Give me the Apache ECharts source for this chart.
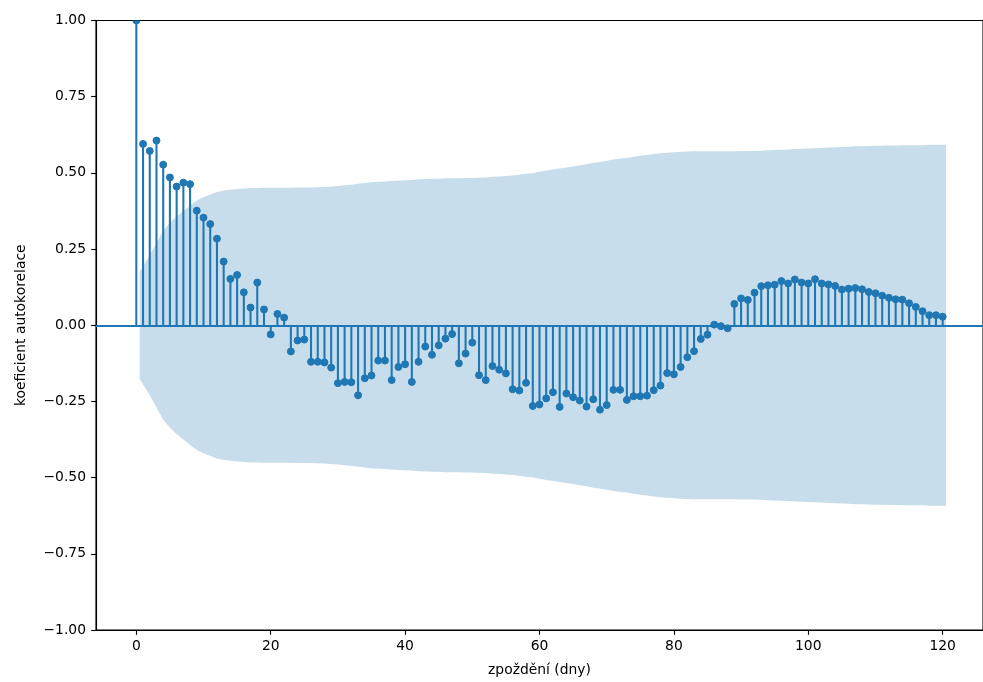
<!DOCTYPE html>
<html>
<head>
<meta charset="utf-8">
<script src="https://cdn.jsdelivr.net/npm/echarts@6/dist/echarts.min.js"></script>
<style>
html,body{margin:0;padding:0;background:#fff;}
#chart{width:983px;height:682px;}
</style>
</head>
<body>
<div id="chart"></div>
<script>
// ACF values for lags 0..120
const acfValues = [
  1.000, 0.595, 0.572, 0.606, 0.527, 0.485, 0.455, 0.468, 0.463, 0.376,
  0.353, 0.332, 0.284, 0.209, 0.152, 0.165, 0.108, 0.058, 0.140, 0.052,
  -0.030, 0.037, 0.025, -0.086, -0.050, -0.047, -0.120, -0.120, -0.122, -0.139,
  -0.190, -0.186, -0.187, -0.230, -0.174, -0.165, -0.116, -0.116, -0.180, -0.137,
  -0.128, -0.186, -0.120, -0.070, -0.097, -0.066, -0.044, -0.029, -0.125, -0.093,
  -0.057, -0.164, -0.180, -0.134, -0.146, -0.158, -0.210, -0.214, -0.189, -0.265,
  -0.260, -0.240, -0.220, -0.268, -0.224, -0.236, -0.247, -0.267, -0.243, -0.277,
  -0.262, -0.212, -0.212, -0.245, -0.233, -0.233, -0.231, -0.213, -0.198, -0.157,
  -0.161, -0.137, -0.105, -0.085, -0.045, -0.031, 0.002, -0.003, -0.010, 0.070,
  0.088, 0.083, 0.107, 0.128, 0.131, 0.133, 0.145, 0.137, 0.150, 0.140,
  0.137, 0.151, 0.137, 0.134, 0.129, 0.117, 0.120, 0.122, 0.118, 0.109,
  0.105, 0.097, 0.090, 0.085, 0.084, 0.072, 0.060, 0.046, 0.033, 0.033,
  0.028
];
// Confidence band half-width for lags 1..120
const bandHalfWidth = [
  0.176, 0.230, 0.270, 0.310, 0.336, 0.357, 0.375, 0.393, 0.409, 0.420,
  0.429, 0.437, 0.442, 0.445, 0.447, 0.449, 0.450, 0.450, 0.451, 0.451,
  0.451, 0.451, 0.451, 0.452, 0.452, 0.452, 0.453, 0.454, 0.455, 0.457,
  0.459, 0.461, 0.464, 0.467, 0.469, 0.471, 0.472, 0.473, 0.475, 0.476,
  0.477, 0.479, 0.480, 0.481, 0.481, 0.482, 0.482, 0.482, 0.483, 0.483,
  0.484, 0.485, 0.487, 0.488, 0.490, 0.491, 0.494, 0.497, 0.499, 0.504,
  0.508, 0.511, 0.514, 0.518, 0.521, 0.525, 0.528, 0.533, 0.536, 0.540,
  0.544, 0.547, 0.549, 0.553, 0.556, 0.559, 0.562, 0.564, 0.566, 0.568,
  0.569, 0.570, 0.571, 0.571, 0.571, 0.571, 0.571, 0.571, 0.571, 0.572,
  0.572, 0.572, 0.573, 0.574, 0.575, 0.576, 0.577, 0.578, 0.579, 0.580,
  0.581, 0.582, 0.583, 0.584, 0.585, 0.586, 0.587, 0.587, 0.588, 0.589,
  0.589, 0.590, 0.590, 0.591, 0.591, 0.591, 0.591, 0.592, 0.592, 0.592
];
const xTicks = [0, 20, 40, 60, 80, 100, 120];
const yTicks = [-1.0, -0.75, -0.5, -0.25, 0.0, 0.25, 0.5, 0.75, 1.0];
const xAxisTitle = 'zpoždění (dny)';
const yAxisTitle = 'koeficient autokorelace';

const C0 = '#1f77b4';
const BAND = '#c7ddec';
const FONT = 'DejaVu Sans';
const px = 100 / 72; // points to pixels at 100 dpi

const lags = acfValues.map((_, i) => i);
const stemData = acfValues.map((v, i) => [lags[i], v]);
// band lags: lags 1..120 with ends extended by half a lag (as statsmodels does)
const bandLags = lags.slice(1).map((l, i, arr) => i === 0 ? l - 0.5 : (i === arr.length - 1 ? l + 0.5 : l));
const upperBand = bandHalfWidth.map((h, i) => [bandLags[i], h]);
const lowerBand = bandHalfWidth.map((h, i) => [bandLags[i], -h]);

const fmt = v => (v < 0 ? '\u2212' : '') + Math.abs(v).toFixed(2);

const chart = echarts.init(document.getElementById('chart'), null, {renderer: 'canvas'});
chart.setOption({
  animation: false,
  backgroundColor: '#fff',
  grid: {
    left: 96, top: 20.5, right: -3.5, bottom: 52,
    show: true, borderColor: '#000', borderWidth: 0.8 * px, backgroundColor: 'transparent'
  },
  xAxis: {
    type: 'value', min: -6, max: 126,
    name: xAxisTitle, nameLocation: 'middle', nameGap: 33,
    nameTextStyle: {fontFamily: FONT, fontSize: 10 * px, color: '#000'},
    axisLine: {show: true, onZero: false, lineStyle: {color: '#000', width: 0.8 * px}},
    axisTick: {show: true, length: 3.5 * px, customValues: xTicks, lineStyle: {color: '#000', width: 0.8 * px}},
    axisLabel: {customValues: xTicks, margin: 9.5, fontFamily: FONT, fontSize: 10 * px, color: '#000', formatter: v => String(v)},
    splitLine: {show: false}
  },
  yAxis: {
    type: 'value', min: -1, max: 1,
    name: yAxisTitle, nameLocation: 'middle', nameGap: 68,
    nameTextStyle: {fontFamily: FONT, fontSize: 10 * px, color: '#000'},
    axisLine: {show: true, onZero: false, lineStyle: {color: '#000', width: 0.8 * px}},
    axisTick: {show: true, length: 3.5 * px, customValues: yTicks, lineStyle: {color: '#000', width: 0.8 * px}},
    axisLabel: {customValues: yTicks, margin: 10, fontFamily: FONT, fontSize: 10 * px, color: '#000', formatter: v => fmt(v)},
    splitLine: {show: false}
  },
  series: [
    {
      type: 'line', data: upperBand, symbol: 'none', silent: true,
      lineStyle: {width: 0}, areaStyle: {color: BAND, opacity: 1, origin: 0}, z: 1
    },
    {
      type: 'line', data: lowerBand, symbol: 'none', silent: true,
      lineStyle: {width: 0}, areaStyle: {color: BAND, opacity: 1, origin: 0}, z: 1
    },
    {
      type: 'custom', data: stemData, clip: true, z: 3,
      renderItem: function (params, api) {
        const base = api.coord([api.value(0), 0]);
        const top = api.coord([api.value(0), api.value(1)]);
        return {
          type: 'group',
          children: [
            {type: 'line', shape: {x1: base[0], y1: base[1], x2: top[0], y2: top[1]},
             style: {stroke: C0, lineWidth: 1.5 * px}},
            {type: 'circle', shape: {cx: top[0], cy: top[1], r: 2.5 * px},
             style: {fill: C0, stroke: C0, lineWidth: 1}}
          ]
        };
      },
      markLine: {
        silent: true, symbol: 'none', label: {show: false},
        lineStyle: {color: C0, width: 1.5 * px, type: 'solid'},
        data: [{yAxis: 0}]
      }
    }
  ]
});
</script>
</body>
</html>
